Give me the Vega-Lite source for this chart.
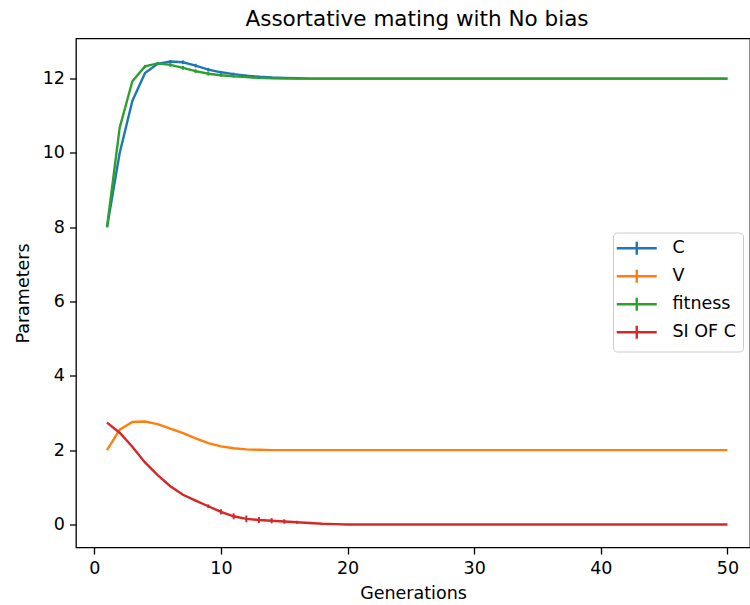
{
  "$schema": "https://vega.github.io/schema/vega-lite/v6.json",
  "width": 674,
  "height": 509,
  "autosize": "none",
  "padding": {"left": 76, "top": 38.5, "right": 0, "bottom": 57.5},
  "background": "white",
  "title": {
    "text": "Assortative mating with No bias",
    "fontSize": 21.5,
    "fontWeight": "normal",
    "font": "DejaVu Sans",
    "color": "#000000",
    "anchor": "middle",
    "dx": 4,
    "dy": 21,
    "offset": 7,
    "baseline": "bottom"
  },
  "config": {
    "font": "DejaVu Sans",
    "view": {"stroke": "#000000", "strokeWidth": 1.3},
    "axis": {
      "domain": false,
      "grid": false,
      "tickColor": "#000000",
      "tickSize": 6.5,
      "tickWidth": 1.3,
      "labelFontSize": 17.5,
      "labelColor": "#000000",
      "labelPadding": 5,
      "titleFontSize": 17.5,
      "titleFontWeight": "normal",
      "titleColor": "#000000"
    }
  },
  "datasets": {
    "main": [
      {"g": 1, "C": 8.0, "V": 2.0, "fitness": 8.0, "SI OF C": 2.74},
      {"g": 2, "C": 10.0, "V": 2.55, "fitness": 10.68, "SI OF C": 2.47},
      {"g": 3, "C": 11.4, "V": 2.76, "fitness": 11.93, "SI OF C": 2.09},
      {"g": 4, "C": 12.15, "V": 2.77, "fitness": 12.33, "SI OF C": 1.67},
      {"g": 5, "C": 12.4, "V": 2.7, "fitness": 12.41, "SI OF C": 1.33},
      {"g": 6, "C": 12.46, "V": 2.58, "fitness": 12.37, "SI OF C": 1.03},
      {"g": 7, "C": 12.44, "V": 2.46, "fitness": 12.29, "SI OF C": 0.8},
      {"g": 8, "C": 12.35, "V": 2.32, "fitness": 12.2, "SI OF C": 0.64},
      {"g": 9, "C": 12.24, "V": 2.19, "fitness": 12.13, "SI OF C": 0.49},
      {"g": 10, "C": 12.17, "V": 2.1, "fitness": 12.09, "SI OF C": 0.34},
      {"g": 11, "C": 12.12, "V": 2.05, "fitness": 12.06, "SI OF C": 0.22},
      {"g": 12, "C": 12.08, "V": 2.02, "fitness": 12.04, "SI OF C": 0.15},
      {"g": 13, "C": 12.05, "V": 2.01, "fitness": 12.02, "SI OF C": 0.12},
      {"g": 14, "C": 12.03, "V": 2.0, "fitness": 12.01, "SI OF C": 0.1},
      {"g": 15, "C": 12.02, "V": 2.0, "fitness": 12.0, "SI OF C": 0.08},
      {"g": 16, "C": 12.01, "V": 2.0, "fitness": 12.0, "SI OF C": 0.06},
      {"g": 17, "C": 12.0, "V": 2.0, "fitness": 12.0, "SI OF C": 0.04},
      {"g": 18, "C": 12.0, "V": 2.0, "fitness": 12.0, "SI OF C": 0.02},
      {"g": 19, "C": 12.0, "V": 2.0, "fitness": 12.0, "SI OF C": 0.01},
      {"g": 20, "C": 12.0, "V": 2.0, "fitness": 12.0, "SI OF C": 0.0},
      {"g": 21, "C": 12.0, "V": 2.0, "fitness": 12.0, "SI OF C": 0.0},
      {"g": 22, "C": 12.0, "V": 2.0, "fitness": 12.0, "SI OF C": 0.0},
      {"g": 23, "C": 12.0, "V": 2.0, "fitness": 12.0, "SI OF C": 0.0},
      {"g": 24, "C": 12.0, "V": 2.0, "fitness": 12.0, "SI OF C": 0.0},
      {"g": 25, "C": 12.0, "V": 2.0, "fitness": 12.0, "SI OF C": 0.0},
      {"g": 26, "C": 12.0, "V": 2.0, "fitness": 12.0, "SI OF C": 0.0},
      {"g": 27, "C": 12.0, "V": 2.0, "fitness": 12.0, "SI OF C": 0.0},
      {"g": 28, "C": 12.0, "V": 2.0, "fitness": 12.0, "SI OF C": 0.0},
      {"g": 29, "C": 12.0, "V": 2.0, "fitness": 12.0, "SI OF C": 0.0},
      {"g": 30, "C": 12.0, "V": 2.0, "fitness": 12.0, "SI OF C": 0.0},
      {"g": 31, "C": 12.0, "V": 2.0, "fitness": 12.0, "SI OF C": 0.0},
      {"g": 32, "C": 12.0, "V": 2.0, "fitness": 12.0, "SI OF C": 0.0},
      {"g": 33, "C": 12.0, "V": 2.0, "fitness": 12.0, "SI OF C": 0.0},
      {"g": 34, "C": 12.0, "V": 2.0, "fitness": 12.0, "SI OF C": 0.0},
      {"g": 35, "C": 12.0, "V": 2.0, "fitness": 12.0, "SI OF C": 0.0},
      {"g": 36, "C": 12.0, "V": 2.0, "fitness": 12.0, "SI OF C": 0.0},
      {"g": 37, "C": 12.0, "V": 2.0, "fitness": 12.0, "SI OF C": 0.0},
      {"g": 38, "C": 12.0, "V": 2.0, "fitness": 12.0, "SI OF C": 0.0},
      {"g": 39, "C": 12.0, "V": 2.0, "fitness": 12.0, "SI OF C": 0.0},
      {"g": 40, "C": 12.0, "V": 2.0, "fitness": 12.0, "SI OF C": 0.0},
      {"g": 41, "C": 12.0, "V": 2.0, "fitness": 12.0, "SI OF C": 0.0},
      {"g": 42, "C": 12.0, "V": 2.0, "fitness": 12.0, "SI OF C": 0.0},
      {"g": 43, "C": 12.0, "V": 2.0, "fitness": 12.0, "SI OF C": 0.0},
      {"g": 44, "C": 12.0, "V": 2.0, "fitness": 12.0, "SI OF C": 0.0},
      {"g": 45, "C": 12.0, "V": 2.0, "fitness": 12.0, "SI OF C": 0.0},
      {"g": 46, "C": 12.0, "V": 2.0, "fitness": 12.0, "SI OF C": 0.0},
      {"g": 47, "C": 12.0, "V": 2.0, "fitness": 12.0, "SI OF C": 0.0},
      {"g": 48, "C": 12.0, "V": 2.0, "fitness": 12.0, "SI OF C": 0.0},
      {"g": 49, "C": 12.0, "V": 2.0, "fitness": 12.0, "SI OF C": 0.0},
      {"g": 50, "C": 12.0, "V": 2.0, "fitness": 12.0, "SI OF C": 0.0}
    ],
    "errs": [
      {"g": 5, "s": "C", "v": 12.4, "e": 0.03},
      {"g": 6, "s": "C", "v": 12.46, "e": 0.04},
      {"g": 7, "s": "C", "v": 12.44, "e": 0.05},
      {"g": 8, "s": "C", "v": 12.35, "e": 0.05},
      {"g": 9, "s": "C", "v": 12.24, "e": 0.05},
      {"g": 10, "s": "C", "v": 12.17, "e": 0.04},
      {"g": 11, "s": "C", "v": 12.12, "e": 0.04},
      {"g": 12, "s": "C", "v": 12.08, "e": 0.03},
      {"g": 13, "s": "C", "v": 12.05, "e": 0.03},
      {"g": 14, "s": "C", "v": 12.03, "e": 0.02},
      {"g": 4, "s": "fitness", "v": 12.33, "e": 0.04},
      {"g": 5, "s": "fitness", "v": 12.41, "e": 0.04},
      {"g": 6, "s": "fitness", "v": 12.37, "e": 0.05},
      {"g": 7, "s": "fitness", "v": 12.29, "e": 0.05},
      {"g": 8, "s": "fitness", "v": 12.2, "e": 0.05},
      {"g": 9, "s": "fitness", "v": 12.13, "e": 0.05},
      {"g": 10, "s": "fitness", "v": 12.09, "e": 0.04},
      {"g": 11, "s": "fitness", "v": 12.06, "e": 0.03},
      {"g": 12, "s": "fitness", "v": 12.04, "e": 0.02},
      {"g": 13, "s": "fitness", "v": 12.02, "e": 0.02},
      {"g": 8, "s": "SI OF C", "v": 0.64, "e": 0.03},
      {"g": 9, "s": "SI OF C", "v": 0.49, "e": 0.05},
      {"g": 10, "s": "SI OF C", "v": 0.34, "e": 0.07},
      {"g": 11, "s": "SI OF C", "v": 0.22, "e": 0.08},
      {"g": 12, "s": "SI OF C", "v": 0.15, "e": 0.09},
      {"g": 13, "s": "SI OF C", "v": 0.12, "e": 0.08},
      {"g": 14, "s": "SI OF C", "v": 0.1, "e": 0.07},
      {"g": 15, "s": "SI OF C", "v": 0.08, "e": 0.06},
      {"g": 16, "s": "SI OF C", "v": 0.06, "e": 0.04},
      {"g": 17, "s": "SI OF C", "v": 0.04, "e": 0.03}
    ]
  },
  "layer": [
    {
      "data": {"name": "main"},
      "transform": [{"fold": ["C", "V", "fitness", "SI OF C"], "as": ["s", "v"]}],
      "mark": {"type": "line", "strokeWidth": 2.4},
      "encoding": {
        "x": {
          "field": "g", "type": "quantitative",
          "scale": {"domain": [-1.45, 51.78], "nice": false, "zero": false},
          "axis": {"values": [0, 10, 20, 30, 40, 50], "title": "Generations", "titlePadding": 8}
        },
        "y": {
          "field": "v", "type": "quantitative",
          "scale": {"domain": [-0.62, 13.08], "nice": false, "zero": false},
          "axis": {"values": [0, 2, 4, 6, 8, 10, 12], "title": "Parameters", "titlePadding": 10}
        },
        "color": {
          "field": "s", "type": "nominal",
          "scale": {"domain": ["C", "V", "fitness", "SI OF C"], "range": ["#1f77b4", "#ff7f0e", "#2ca02c", "#d62728"]},
          "legend": {
            "title": null,
            "orient": "none",
            "legendX": 537,
            "legendY": 194,
            "symbolType": "M-4,0H4M0,-1.3V1.3",
            "symbolSize": 100,
            "symbolStrokeWidth": 2.4,
            "symbolFillColor": "transparent",
            "symbolOffset": 8,
            "labelOffset": 27,
            "labelFontSize": 17.5,
            "labelColor": "#000000",
            "rowPadding": 4,
            "padding": 7,
            "strokeColor": "#cccccc",
            "fillColor": "rgba(255,255,255,0.8)",
            "cornerRadius": 4
          }
        }
      }
    },
    {
      "data": {"name": "errs"},
      "mark": {"type": "errorbar", "thickness": 2},
      "encoding": {
        "x": {"field": "g", "type": "quantitative", "title": "Generations"},
        "y": {"field": "v", "type": "quantitative", "title": "Parameters"},
        "yError": {"field": "e"},
        "color": {"field": "s", "type": "nominal", "legend": null}
      }
    }
  ]
}
